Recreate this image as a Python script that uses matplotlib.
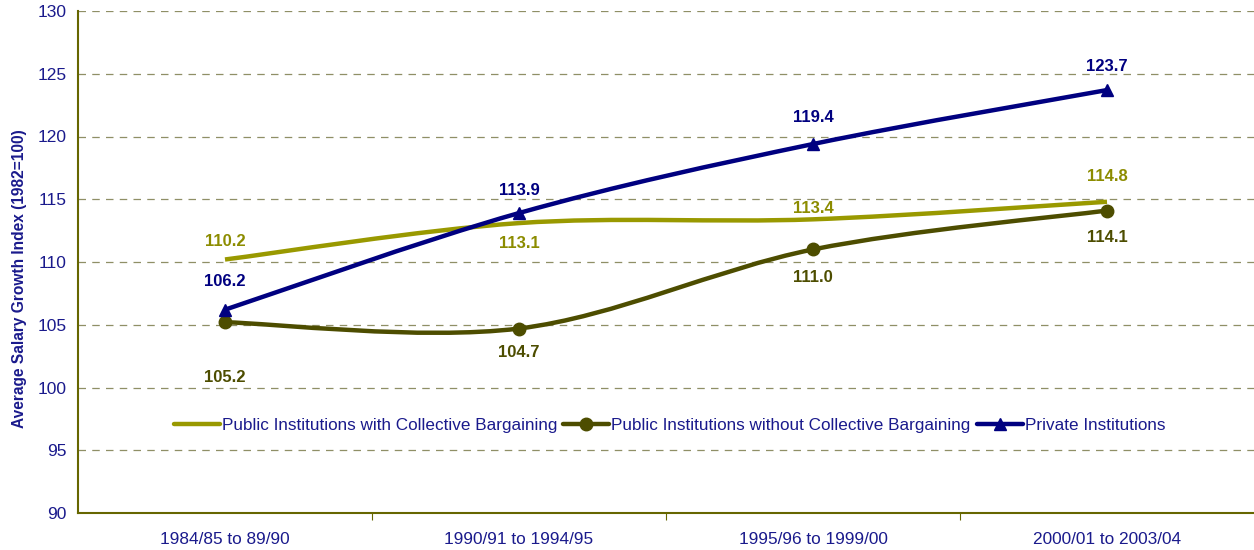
import numpy as np
import matplotlib.pyplot as plt
from matplotlib.path import Path
from matplotlib.patches import PathPatch
from matplotlib.lines import Line2D

plt.rcParams['font.family'] = ['Liberation Sans', 'DejaVu Sans']

periods = ['1984/85 to 89/90', '1990/91 to 1994/95', '1995/96 to 1999/00', '2000/01 to 2003/04']
with_cb = [110.2, 113.1, 113.4, 114.8]
without_cb = [105.2, 104.7, 111.0, 114.1]
private = [106.2, 113.9, 119.4, 123.7]

series_names = ['Public Institutions with Collective Bargaining',
                'Public Institutions without Collective Bargaining',
                'Private Institutions']
colors = ['#999900', '#4d4d00', '#000080']
markers = [None, 'o', '^']
label_col = ['#8c8c00', '#4d4d00', '#000080']
text_blue = '#1a1a8c'

# pixel offsets of the value labels (above / below the points)
offsets = [[18, -20, 11, 25],
           [-55, -24, -28, -27],
           [28, 23, 27, 24]]


def smooth_path(xs, ys):
    # excel-style smoothed line: catmull-rom segments as cubic beziers
    pts = np.column_stack([xs, ys]).astype(float)
    p = np.vstack([pts[0], pts, pts[-1]])
    verts = [tuple(pts[0])]
    codes = [Path.MOVETO]
    for i in range(1, len(p) - 2):
        c1 = p[i] + (p[i + 1] - p[i - 1]) / 6
        c2 = p[i + 1] - (p[i + 2] - p[i]) / 6
        verts += [tuple(c1), tuple(c2), tuple(p[i + 1])]
        codes += [Path.CURVE4] * 3
    return Path(verts, codes)


fig = plt.figure(figsize=(12.54, 5.5), dpi=100)
ax = fig.add_axes([78 / 1254, 37 / 550, 1 - 78 / 1254, 502 / 550])

x = np.arange(len(periods))
handles = []
for vals, name, col, mk, lc, offs in zip([with_cb, without_cb, private], series_names,
                                          colors, markers, label_col, offsets):
    ax.add_patch(PathPatch(smooth_path(x, vals), fill=False, edgecolor=col,
                           lw=3.2, capstyle='butt', zorder=3))
    if mk:
        ax.plot(x, vals, ls='none', marker=mk, ms=9, color=col, zorder=4)
    handles.append(Line2D([], [], color=col, lw=3.2, marker=mk, ms=9,
                          solid_capstyle='round', label=name))
    for xi, v, o in zip(x, vals, offs):
        ax.annotate(f'{v:.1f}', (xi, v), xytext=(0, o), textcoords='offset pixels',
                    ha='center', va='center', fontsize=12, fontweight='bold', color=lc)

ax.set_xlim(-0.5, 3.5)
ax.set_ylim(90, 130)
ax.set_yticks(range(90, 131, 5))
ax.yaxis.grid(True, ls=(0, (6, 5)), color='#8f8f66', lw=0.9)
ax.set_axisbelow(True)

ax.set_xticks([0.5, 1.5, 2.5])
ax.set_xticklabels([])
ax.set_xticks(x, minor=True)
ax.set_xticklabels(periods, minor=True)
ax.tick_params(axis='x', which='major', length=5, color='#666600', direction='out')
ax.tick_params(axis='x', which='minor', length=0, pad=14, labelsize=12.4, labelcolor=text_blue)
ax.tick_params(axis='y', length=0, pad=8, labelsize=12.5, labelcolor=text_blue)

for s in ['top', 'right']:
    ax.spines[s].set_visible(False)
for s in ['left', 'bottom']:
    ax.spines[s].set_color('#666600')
    ax.spines[s].set_linewidth(1.5)

ax.set_ylabel('Average Salary Growth Index (1982=100)', fontsize=11.2, fontweight='bold',
              color=text_blue)
ax.yaxis.set_label_coords(-0.0434, 0.466)

ax.legend(handles=handles, loc='center', bbox_to_anchor=(0.503, 0.175), ncol=3, frameon=False,
          fontsize=12.3, handlelength=2.7, handletextpad=0.12, columnspacing=0.35,
          labelcolor=text_blue)

fig.savefig('out.png', dpi=100)
